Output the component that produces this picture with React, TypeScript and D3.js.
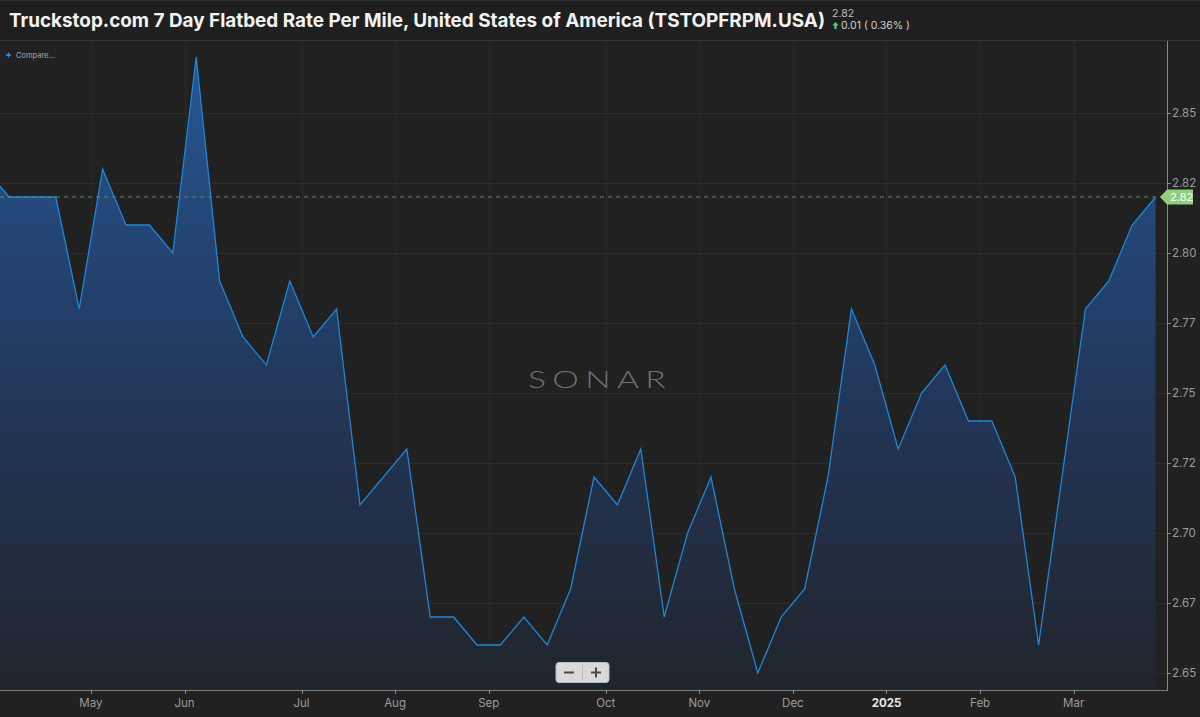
import { useEffect, useRef } from 'react';
import * as d3 from 'd3';

const weekDates: string[] = [
    '2024-03-31', '2024-04-07', '2024-04-14', '2024-04-21', '2024-04-28', '2024-05-05', '2024-05-12', '2024-05-19',
    '2024-05-26', '2024-06-02', '2024-06-09', '2024-06-16', '2024-06-23', '2024-06-30', '2024-07-07', '2024-07-14',
    '2024-07-21', '2024-07-28', '2024-08-04', '2024-08-11', '2024-08-18', '2024-08-25', '2024-09-01', '2024-09-08',
    '2024-09-15', '2024-09-22', '2024-09-29', '2024-10-06', '2024-10-13', '2024-10-20', '2024-10-27', '2024-11-03',
    '2024-11-10', '2024-11-17', '2024-11-24', '2024-12-01', '2024-12-08', '2024-12-15', '2024-12-22', '2025-01-05',
    '2025-01-12', '2025-01-19', '2025-01-26', '2025-02-02', '2025-02-09', '2025-02-16', '2025-02-23', '2025-03-02',
    '2025-03-09', '2025-03-16', '2025-03-23',
];

const rates: number[] = [
    2.83, 2.82, 2.82, 2.82, 2.78, 2.83, 2.81, 2.81,
    2.80, 2.87, 2.79, 2.77, 2.76, 2.79, 2.77, 2.78,
    2.71, 2.72, 2.73, 2.67, 2.67, 2.66, 2.66, 2.67,
    2.66, 2.68, 2.72, 2.71, 2.73, 2.67, 2.70, 2.72,
    2.68, 2.65, 2.67, 2.68, 2.72, 2.78, 2.76, 2.73,
    2.75, 2.76, 2.74, 2.74, 2.72, 2.66, 2.72, 2.78,
    2.79, 2.81, 2.82,
];

const yTickValues: number[] = [2.65, 2.675, 2.7, 2.725, 2.75, 2.775, 2.8, 2.825, 2.85];
const yTickLabels: string[] = ['2.65', '2.67', '2.70', '2.72', '2.75', '2.77', '2.80', '2.82', '2.85'];
const monthNames: string[] = ['Jan', 'Feb', 'Mar', 'Apr', 'May', 'Jun', 'Jul', 'Aug', 'Sep', 'Oct', 'Nov', 'Dec'];

const title = 'Truckstop.com 7 Day Flatbed Rate Per Mile, United States of America (TSTOPFRPM.USA)';
const lastValue = '2.82';
const changeText = '0.01 ( 0.36% )';

export default function App() {
    const ref = useRef<SVGSVGElement>(null);

    useEffect(() => {
        document.body.style.margin = '0';
        document.body.style.background = '#212121';
        if (!ref.current) return;

        const svg = d3.select(ref.current);
        svg.selectAll('*').remove();

        const width = 1200;
        const height = 717;
        const plotTop = 41;
        const plotBottom = 690;
        const axisX = 1167;

        svg.attr('width', width).attr('height', height).style('display', 'block');

        const x = d3.scaleLinear().domain([0, rates.length - 1]).range([-14.4, 1155.6]);
        const y = d3.scaleLinear().domain([2.65, 2.85]).range([673, 113]);

        const defs = svg.append('defs');
        defs.append('clipPath').attr('id', 'plot-clip')
            .append('rect').attr('x', 0).attr('y', plotTop).attr('width', axisX).attr('height', plotBottom - plotTop);

        const grad = defs.append('linearGradient')
            .attr('id', 'area-grad')
            .attr('gradientUnits', 'userSpaceOnUse')
            .attr('x1', 0).attr('x2', 0)
            .attr('y1', 56).attr('y2', plotBottom);
        grad.append('stop').attr('offset', '0%').attr('stop-color', '#265694');
        grad.append('stop').attr('offset', '55%').attr('stop-color', '#223658');
        grad.append('stop').attr('offset', '100%').attr('stop-color', '#21252c');

        // background + header
        svg.append('rect').attr('width', width).attr('height', height).attr('fill', '#212121');
        svg.append('rect').attr('width', width).attr('height', 40).attr('fill', '#1f1f1f');
        svg.append('line').attr('x1', 0).attr('x2', width).attr('y1', 0.5).attr('y2', 0.5).attr('stroke', '#2e2e2e');
        svg.append('line').attr('x1', 0).attr('x2', width).attr('y1', 40.5).attr('y2', 40.5).attr('stroke', '#353535');

        svg.append('text')
            .attr('x', 9).attr('y', 27)
            .attr('fill', '#f2f2f2')
            .attr('font-family', 'Inter, Roboto, sans-serif')
            .attr('font-size', '19px')
            .attr('font-weight', '700')
            .attr('textLength', 816)
            .attr('lengthAdjust', 'spacingAndGlyphs')
            .text(title);

        svg.append('text')
            .attr('x', 832).attr('y', 16.5)
            .attr('fill', '#bdbdbd')
            .attr('font-family', 'Inter, Roboto, sans-serif')
            .attr('font-size', '10.5px')
            .text(lastValue);
        svg.append('path')
            .attr('d', 'M835.5,22 L838.5,25.5 L836.6,25.5 L836.6,29 L834.4,29 L834.4,25.5 L832.5,25.5 Z')
            .attr('fill', '#4fd18b');
        svg.append('text')
            .attr('x', 841).attr('y', 29)
            .attr('fill', '#cfcfcf')
            .attr('font-family', 'Inter, Roboto, sans-serif')
            .attr('font-size', '10.5px')
            .text(changeText);

        const plot = svg.append('g').attr('clip-path', 'url(#plot-clip)');

        // horizontal grid
        plot.selectAll('.hgrid')
            .data(yTickValues)
            .enter()
            .append('line')
            .attr('x1', 0).attr('x2', axisX)
            .attr('y1', d => Math.round(y(d)) + 0.5).attr('y2', d => Math.round(y(d)) + 0.5)
            .attr('stroke', '#2c2c2c');

        // month ticks sit between the last week of one month and the first of the next
        const monthTicks: { pos: number; label: string; year: boolean }[] = [];
        for (let i = 1; i < weekDates.length; i++) {
            const prev = new Date(weekDates[i - 1] + 'T00:00:00');
            const cur = new Date(weekDates[i] + 'T00:00:00');
            if (prev.getMonth() !== cur.getMonth() && x(i - 0.5) > 20) {
                const isYear = cur.getMonth() === 0;
                monthTicks.push({
                    pos: i - 0.5,
                    label: isYear ? String(cur.getFullYear()) : monthNames[cur.getMonth()],
                    year: isYear,
                });
            }
        }

        plot.selectAll('.vgrid')
            .data(monthTicks)
            .enter()
            .append('line')
            .attr('x1', d => Math.round(x(d.pos)) + 0.5).attr('x2', d => Math.round(x(d.pos)) + 0.5)
            .attr('y1', plotTop).attr('y2', plotBottom)
            .attr('stroke', '#2a2a2a');

        // watermark
        svg.append('text')
            .attr('transform', 'translate(600, 388) scale(1.4, 1)')
            .attr('text-anchor', 'middle')
            .attr('fill', '#707070')
            .attr('font-family', 'Lato, "Open Sans", sans-serif')
            .attr('font-size', '24px')
            .attr('font-weight', '300')
            .attr('letter-spacing', '4.5px')
            .text('SONAR');

        const area = d3.area<number>()
            .x((_, i) => x(i))
            .y0(plotBottom)
            .y1(d => y(d));

        const line = d3.line<number>()
            .x((_, i) => x(i))
            .y(d => y(d));

        plot.append('path')
            .datum(rates)
            .attr('d', area)
            .attr('fill', 'url(#area-grad)');

        plot.append('path')
            .datum(rates)
            .attr('d', line)
            .attr('fill', 'none')
            .attr('stroke', '#1f86d4')
            .attr('stroke-width', 1.3);

        // last value dashed line
        const lastY = y(rates[rates.length - 1]);
        plot.append('line')
            .attr('x1', 0).attr('x2', axisX)
            .attr('y1', lastY).attr('y2', lastY)
            .attr('stroke', '#5d8f45')
            .attr('stroke-dasharray', '4,4')
            .attr('stroke-width', 1);

        // axes
        svg.append('line')
            .attr('x1', axisX + 0.5).attr('x2', axisX + 0.5)
            .attr('y1', plotTop).attr('y2', plotBottom)
            .attr('stroke', '#8a8a8a');
        svg.append('line')
            .attr('x1', 0).attr('x2', axisX + 1)
            .attr('y1', plotBottom + 0.5).attr('y2', plotBottom + 0.5)
            .attr('stroke', '#7a7a7a');

        const yAxis = svg.append('g');
        yAxis.selectAll('.ytick')
            .data(yTickValues)
            .enter()
            .append('line')
            .attr('x1', axisX).attr('x2', axisX + 4)
            .attr('y1', d => Math.round(y(d)) + 0.5).attr('y2', d => Math.round(y(d)) + 0.5)
            .attr('stroke', '#8a8a8a');
        yAxis.selectAll('.ylabel')
            .data(yTickValues)
            .enter()
            .append('text')
            .attr('x', axisX + 5)
            .attr('y', d => y(d) + 4)
            .attr('fill', '#9c9c9c')
            .attr('font-family', 'Inter, Roboto, sans-serif')
            .attr('font-size', '11.5px')
            .text((_, i) => yTickLabels[i]);

        const xAxis = svg.append('g');
        xAxis.selectAll('.xtick')
            .data(monthTicks)
            .enter()
            .append('line')
            .attr('x1', d => Math.round(x(d.pos)) + 0.5).attr('x2', d => Math.round(x(d.pos)) + 0.5)
            .attr('y1', plotBottom).attr('y2', plotBottom + 4)
            .attr('stroke', '#8a8a8a');
        xAxis.selectAll('.xlabel')
            .data(monthTicks)
            .enter()
            .append('text')
            .attr('x', d => x(d.pos))
            .attr('y', 707)
            .attr('text-anchor', 'middle')
            .attr('fill', d => (d.year ? '#e6e6e6' : '#9c9c9c'))
            .attr('font-weight', d => (d.year ? '700' : '400'))
            .attr('font-family', 'Inter, Roboto, sans-serif')
            .attr('font-size', '11.5px')
            .text(d => d.label);

        // last value tag
        const tag = svg.append('g').attr('transform', `translate(0, ${lastY})`);
        tag.append('path')
            .attr('d', 'M1160,0 L1167,-7.5 L1193,-7.5 L1193,7.5 L1167,7.5 Z')
            .attr('fill', '#8fce7c');
        tag.append('text')
            .attr('x', 1170).attr('y', 4)
            .attr('fill', '#ffffff')
            .attr('font-family', 'Inter, Roboto, sans-serif')
            .attr('font-size', '11px')
            .text(lastValue);

        // compare link
        svg.append('path')
            .attr('d', 'M6,55 H11 M8.5,52.5 V57.5')
            .attr('stroke', '#3a8fe0')
            .attr('stroke-width', 1.3);
        svg.append('text')
            .attr('x', 16).attr('y', 58)
            .attr('fill', '#a8a8a8')
            .attr('font-family', 'Inter, Roboto, sans-serif')
            .attr('font-size', '7.5px')
            .text('Compare...');

        // zoom buttons
        const zoom = svg.append('g');
        zoom.append('rect')
            .attr('x', 556).attr('y', 662.5).attr('width', 53).attr('height', 20)
            .attr('rx', 3)
            .attr('fill', '#d9d9d9')
            .attr('stroke', '#bdbdbd');
        zoom.append('line')
            .attr('x1', 582.5).attr('x2', 582.5).attr('y1', 665).attr('y2', 680)
            .attr('stroke', '#bcbcbc');
        zoom.append('path')
            .attr('d', 'M564,672.5 H574 M591,672.5 H601 M596,667.5 V677.5')
            .attr('stroke', '#4a4a4a')
            .attr('stroke-width', 2);
    }, []);

    return <svg ref={ref} />;
}
